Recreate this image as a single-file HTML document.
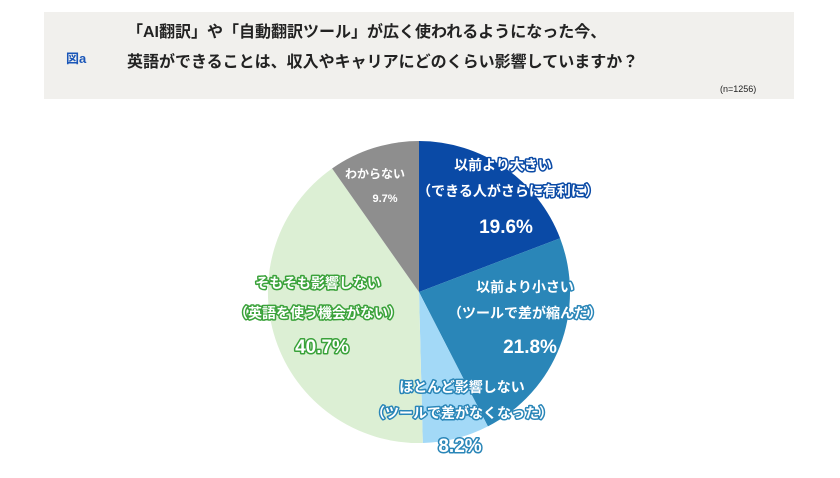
<!DOCTYPE html>
<html><head><meta charset="utf-8"><style>
body{margin:0;background:#fff;width:840px;height:473px;overflow:hidden;font-family:"Liberation Sans","Noto Sans CJK JP",sans-serif}
</style></head><body>
<svg width="840" height="473" xmlns="http://www.w3.org/2000/svg" font-family="'Liberation Sans','Noto Sans CJK JP',sans-serif">
<rect x="44" y="12" width="750" height="87" fill="#f1f0ed"/>
<text x="66" y="63" font-size="13" font-weight="bold" fill="#1a56b8">図a</text>
<text x="127" y="37" font-size="16" font-weight="bold" fill="#222">「AI翻訳」や「自動翻訳ツール」が広く使われるようになった今、</text>
<text x="127" y="67" font-size="16" font-weight="bold" fill="#222">英語ができることは、収入やキャリアにどのくらい影響していますか？</text>
<text x="720" y="92" font-size="9" fill="#222">(n=1256)</text>
<g transform="translate(419,292)">
<path d="M0,0 L0,-151 A151,151 0 0 1 141.1,-53.8 Z" fill="#0a4aa6"/>
<path d="M0,0 L141.1,-53.8 A151,151 0 0 1 68.9,134.4 Z" fill="#2a86b8"/>
<path d="M0,0 L68.9,134.4 A151,151 0 0 1 3.8,151 Z" fill="#a3d9f7"/>
<path d="M0,0 L3.8,151 A151,151 0 0 1 -86.9,-123.5 Z" fill="#dcefd4"/>
<path d="M0,0 L-86.9,-123.5 A151,151 0 0 1 0,-151 Z" fill="#8e8e8e"/>
</g>
<g font-weight="bold" text-anchor="middle" fill="#fff" paint-order="stroke" stroke-linejoin="round">
<text x="375" y="178" font-size="12" fill="#fff">わからない</text>
<text x="385" y="202" font-size="11" fill="#fff">9.7%</text>
<g stroke="#0a4aa6" stroke-width="3">
<text x="503" y="170" font-size="14">以前より大きい</text>
<text x="508" y="196" font-size="14">（できる人がさらに有利に）</text>
<text x="506" y="233" font-size="19">19.6%</text>
</g>
<g stroke="#2a86b8" stroke-width="3">
<text x="525" y="292" font-size="14">以前より小さい</text>
<text x="525" y="318" font-size="14">（ツールで差が縮んだ）</text>
<text x="530" y="353" font-size="19">21.8%</text>
</g>
<g stroke="#2a86b8" stroke-width="3">
<text x="462" y="392" font-size="14">ほとんど影響しない</text>
<text x="462" y="418" font-size="14">（ツールで差がなくなった）</text>
<text x="460" y="452" font-size="19">8.2%</text>
</g>
<g stroke="#3aa23a" stroke-width="3">
<text x="318" y="288" font-size="14">そもそも影響しない</text>
<text x="318" y="318" font-size="14">（英語を使う機会がない）</text>
<text x="322" y="353" font-size="19">40.7%</text>
</g>
</g>
</svg>
</body></html>
